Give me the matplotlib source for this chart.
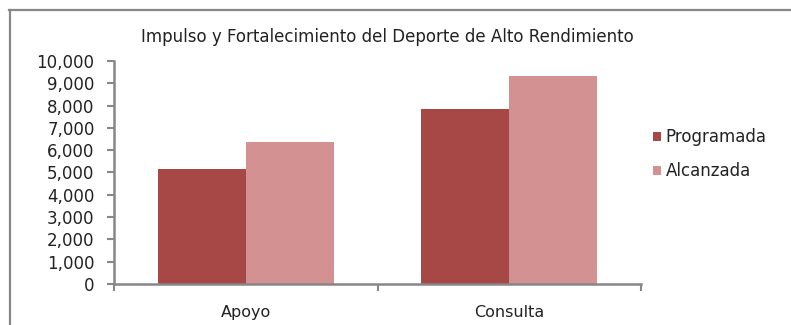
import matplotlib
matplotlib.use('Agg')
import matplotlib.pyplot as plt
from matplotlib.lines import Line2D
from matplotlib.ticker import FuncFormatter
import numpy as np

plt.rcParams['font.family'] = ['DejaVu Sans']

# Metas del programa por tipo de servicio
categorias = ['Apoyo', 'Consulta']
programada = [5150, 7850]
alcanzada = [6350, 9320]
serie_nombres = ['Programada', 'Alcanzada']
yticks = np.arange(0, 10001, 1000)

color_prog = '#A84846'
color_alc = '#D39192'
gris = '#878787'
texto = '#222222'

fig = plt.figure(figsize=(7.91, 3.25), dpi=100)
ax = fig.add_axes([0.1441, 0.1262, 0.6663, 0.6862])

x = np.arange(len(categorias))
w = 0.334
ax.bar(x - w / 2, programada, width=w, color=color_prog, label=serie_nombres[0])
ax.bar(x + w / 2, alcanzada, width=w, color=color_alc, label=serie_nombres[1])

ax.set_xlim(-0.5, len(categorias) - 0.5)
ax.set_ylim(0, 10000)
ax.set_yticks(yticks)
ax.yaxis.set_major_formatter(FuncFormatter(lambda v, p: f'{int(v):,}'))

# marcas del eje x entre categorias, etiquetas centradas
ax.set_xticks(np.arange(-0.5, len(categorias), 1.0))
ax.set_xticklabels([])
ax.set_xticks(x, minor=True)
ax.set_xticklabels(categorias, minor=True)
ax.tick_params(axis='x', which='minor', length=0, pad=15, labelsize=11.5, labelcolor=texto)
ax.tick_params(axis='x', which='major', length=5, width=1.5, color=gris)
ax.tick_params(axis='y', length=5, width=1.5, color=gris, pad=9, labelsize=12, labelcolor=texto)

for s in ['top', 'right']:
    ax.spines[s].set_visible(False)
for s in ['left', 'bottom']:
    ax.spines[s].set_color(gris)
    ax.spines[s].set_linewidth(1.8)

fig.text(0.49, 0.886, 'Impulso y Fortalecimiento del Deporte de Alto Rendimiento',
         ha='center', va='center', fontsize=12, color=texto)

ax.legend(loc='center left', bbox_to_anchor=(0.826, 0.525), bbox_transform=fig.transFigure,
          frameon=False, fontsize=12, handlelength=0.45, handleheight=0.45,
          handletextpad=0.3, labelspacing=0.95, borderaxespad=0, borderpad=0,
          labelcolor=texto)

# marco exterior del grafico
fig.add_artist(Line2D([0.0115, 1.0], [0.969, 0.969], color=gris, lw=1.6))
fig.add_artist(Line2D([0.0125, 0.0125], [0.0, 0.969], color=gris, lw=1.6))

fig.savefig('out.png', dpi=100)
